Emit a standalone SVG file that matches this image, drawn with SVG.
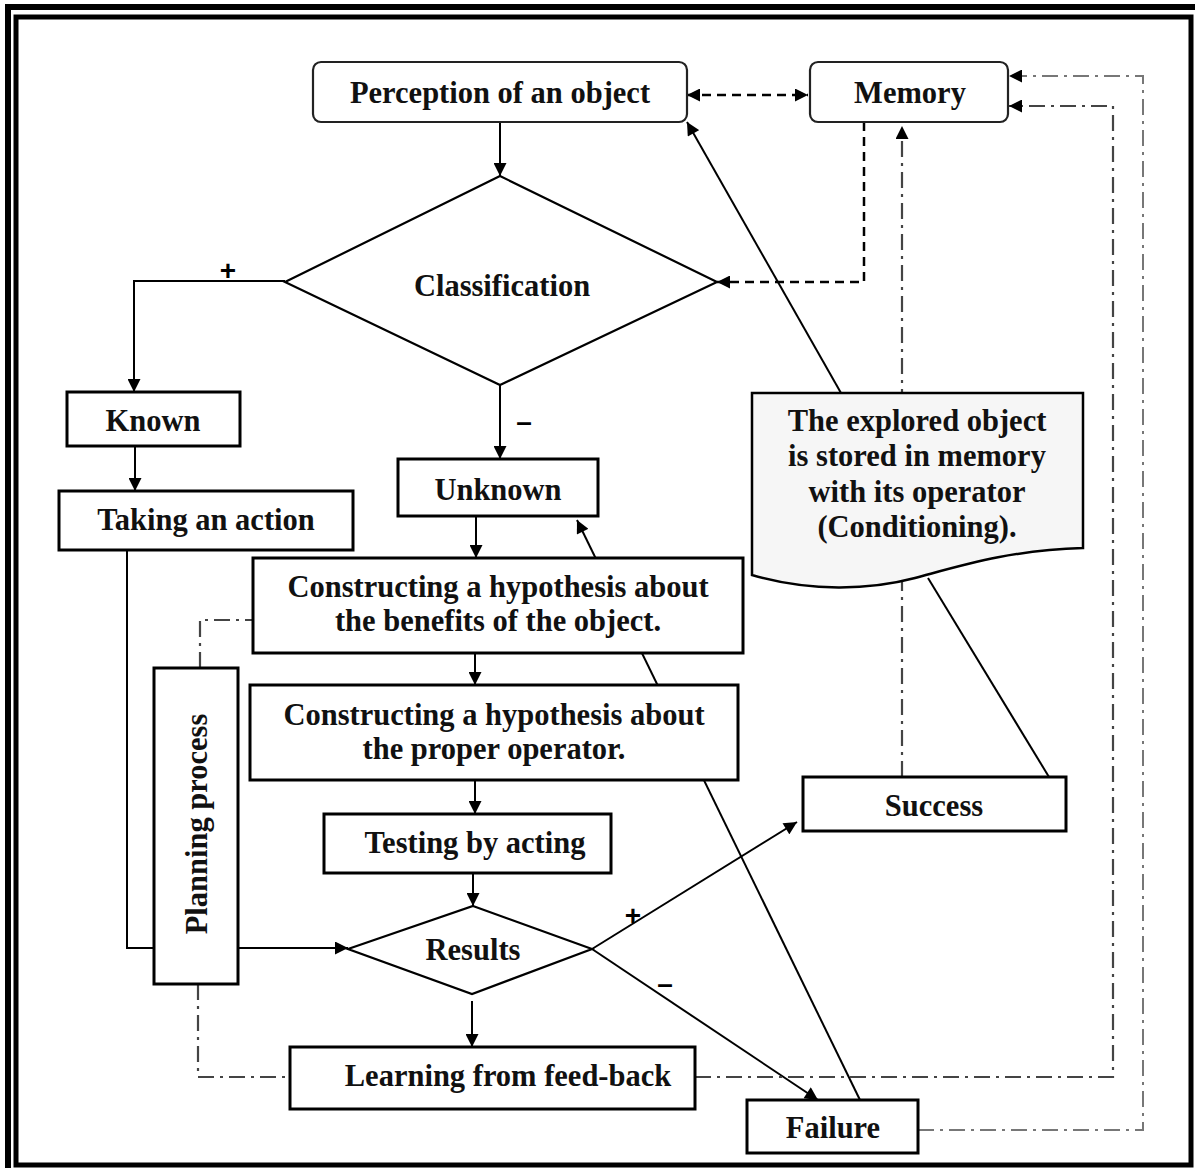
<svg xmlns="http://www.w3.org/2000/svg" width="1195" height="1168" viewBox="0 0 1195 1168">
<defs>
<marker id="arr" viewBox="0 0 10 10" refX="10" refY="5" markerWidth="14" markerHeight="13" markerUnits="userSpaceOnUse" orient="auto-start-reverse">
<path d="M0,0 L10,5 L0,10 z" fill="#000"/>
</marker>
<style>
.t{font-family:"Liberation Serif","Times New Roman",serif;font-weight:bold;font-size:30.5px;fill:#111;text-anchor:middle}
.lbl{font-family:"Liberation Sans",Arial,sans-serif;font-weight:bold;font-size:28px;fill:#000;text-anchor:middle}
.box{fill:#fff;stroke:#000;stroke-width:3}
.rbox{fill:#fff;stroke:#222;stroke-width:2.2}
.ln{fill:none;stroke:#000;stroke-width:2}
.dash{fill:none;stroke:#000;stroke-width:2.5;stroke-dasharray:9,6}
.dd{fill:none;stroke:#444;stroke-width:2.2;stroke-dasharray:16,6,3,6}
.dd2{fill:none;stroke:#777;stroke-width:2;stroke-dasharray:16,6,3,6}
</style>
</defs>
<rect width="1195" height="1168" fill="#fff"/>
<g id="frame">
<rect x="8" y="7" width="1200" height="1200" fill="none" stroke="#000" stroke-width="6"/>
<rect x="16" y="17" width="1175" height="1148" fill="none" stroke="#000" stroke-width="5"/>
</g>
<g id="connectors">
<path class="dash" d="M687,95 H808" marker-start="url(#arr)" marker-end="url(#arr)"/>
<path class="ln" d="M500,122 V176" marker-end="url(#arr)"/>
<path class="dash" d="M864,122 V282 H717" marker-end="url(#arr)"/>
<path class="ln" d="M285,281 H134 V392" marker-end="url(#arr)"/>
<path class="ln" d="M500,385 V459" marker-end="url(#arr)"/>
<path class="ln" d="M135,446 V491" marker-end="url(#arr)"/>
<path class="ln" d="M476,516 V558" marker-end="url(#arr)"/>
<path class="ln" d="M475,653 V685" marker-end="url(#arr)"/>
<path class="ln" d="M475,780 V814" marker-end="url(#arr)"/>
<path class="ln" d="M473,873 V906" marker-end="url(#arr)"/>
<path class="ln" d="M472,1001 V1047" marker-end="url(#arr)"/>
<path class="ln" d="M127,550 V948 H348" marker-end="url(#arr)"/>
<path class="ln" d="M592,949 L797,822" marker-end="url(#arr)"/>
<path class="ln" d="M592,949 L818,1100" marker-end="url(#arr)"/>
<path class="ln" d="M860,1100 L577,520" marker-end="url(#arr)"/>
<path class="ln" d="M841,393 L687,122" marker-end="url(#arr)"/>
<path class="ln" d="M1049,777 L928,578"/>
<path class="dd" d="M902,777 V126" marker-end="url(#arr)"/>
<path class="dd" d="M200,668 V620 H253"/>
<path class="dd" d="M198,984 V1077 H290"/>
<path class="dd" d="M695,1077 H1113 V106 H1009" marker-end="url(#arr)"/>
<path class="dd2" d="M918,1130 H1143 V76 H1009" marker-end="url(#arr)"/>
<text class="lbl" x="228" y="280">+</text>
<text class="lbl" x="524" y="431">–</text>
<text class="lbl" x="633" y="925">+</text>
<text class="lbl" x="665" y="993">–</text>
</g>
<g id="perception">
<rect class="rbox" x="313" y="62" width="374" height="60" rx="8"/>
<text class="t" x="500" y="103">Perception of an object</text>
</g>
<g id="memory">
<rect class="rbox" x="810" y="62" width="198" height="60" rx="8"/>
<text class="t" x="910" y="103">Memory</text>
</g>
<g id="classification">
<polygon class="box" points="500,176 717,282 500,385 285,282" style="stroke-width:2.2"/>
<text class="t" x="502" y="296">Classification</text>
</g>
<g id="known">
<rect class="box" x="67" y="392" width="173" height="54"/>
<text class="t" x="153" y="431">Known</text>
</g>
<g id="taking-action">
<rect class="box" x="59" y="491" width="294" height="59"/>
<text class="t" x="206" y="530">Taking an action</text>
</g>
<g id="unknown">
<rect class="box" x="398" y="459" width="200" height="57"/>
<text class="t" x="498" y="500">Unknown</text>
</g>
<g id="hyp-benefits">
<rect class="box" x="253" y="558" width="490" height="95"/>
<text class="t" x="498" y="597">Constructing a hypothesis about</text>
<text class="t" x="498" y="631">the benefits of the object.</text>
</g>
<g id="hyp-operator">
<rect class="box" x="250" y="685" width="488" height="95"/>
<text class="t" x="494" y="725">Constructing a hypothesis about</text>
<text class="t" x="494" y="759">the proper operator.</text>
</g>
<g id="testing">
<rect class="box" x="324" y="814" width="287" height="59"/>
<text class="t" x="475" y="853">Testing by acting</text>
</g>
<g id="results">
<polygon class="box" points="473,906 592,949 472,994 348,949" style="stroke-width:2.2"/>
<text class="t" x="473" y="960">Results</text>
</g>
<g id="learning">
<rect class="box" x="290" y="1047" width="405" height="62"/>
<text class="t" x="508" y="1086">Learning from feed-back</text>
</g>
<g id="planning">
<rect class="box" x="154" y="668" width="84" height="316"/>
<text class="t" transform="translate(207,824) rotate(-90)" x="0" y="0">Planning process</text>
</g>
<g id="success">
<rect class="box" x="803" y="777" width="263" height="54"/>
<text class="t" x="934" y="816">Success</text>
</g>
<g id="failure">
<rect class="box" x="747" y="1100" width="171" height="53"/>
<text class="t" x="833" y="1138">Failure</text>
</g>
<g id="stored">
<path d="M752,393 H1083 V548 C1010,550 960,566 915,578 C870,590 810,592 752,575 Z" fill="#f6f6f6" stroke="#000" stroke-width="2.5"/>
<text class="t" x="917" y="431">The explored object</text>
<text class="t" x="917" y="466">is stored in memory</text>
<text class="t" x="917" y="502">with its operator</text>
<text class="t" x="917" y="537">(Conditioning).</text>
</g>
</svg>
